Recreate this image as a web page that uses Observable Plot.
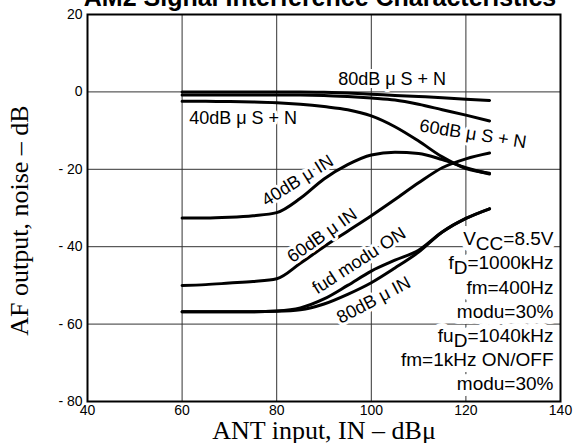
<!DOCTYPE html>
<html>
<head>
<meta charset="utf-8">
<script src="https://cdn.jsdelivr.net/npm/d3@7"></script>
<script src="https://cdn.jsdelivr.net/npm/@observablehq/plot@0.6"></script>
<style>
  html, body { margin: 0; padding: 0; background: white; overflow: hidden; }
</style>
</head>
<body>
<div id="chart"></div>
<script>
// ---- data ----
const title = "AM2 Signal Interference Characteristics";
const xLabel = "ANT input, IN – dBμ";
const yLabel = "AF output, noise – dB";
const xTicks = [40, 60, 80, 100, 120, 140];
const yTicks = [20, 0, -20, -40, -60, -80];
const xGrid = [60, 80, 100, 120];
const yGrid = [0, -20, -40, -60];

const inputLevels = [60, 65, 70, 75, 80, 85, 90, 95, 100, 105, 110, 115, 120, 125];
const s80 = [0, 0, 0, 0, 0, 0, -0.1, -0.3, -0.6, -0.9, -1.2, -1.5, -1.9, -2.2];
const s60 = [-0.8, -0.8, -0.8, -0.8, -0.8, -0.8, -0.9, -1.2, -1.6, -2.1, -3.2, -4.6, -6.0, -7.5];
const s40 = [-2.4, -2.4, -2.5, -2.6, -2.8, -3.2, -3.8, -4.6, -6.2, -9.0, -12.7, -16.8, -19.8, -21.0];
const in40 = [-32.6, -32.6, -32.4, -32.0, -31.2, -27.5, -22.5, -18.8, -16.3, -15.6, -15.9, -17.5, -19.6, -21.2];
const in60 = [-50.0, -49.8, -49.4, -49.0, -48.3, -44.3, -40.0, -36.0, -32.0, -27.8, -23.5, -19.6, -17.3, -15.8];
const fudOn = [-56.8, -56.8, -56.8, -56.8, -56.6, -55.8, -53.5, -50.0, -46.3, -43.5, -40.9, -36.2, -32.7, -30.2];
const in80 = [-56.8, -56.8, -56.8, -56.8, -56.7, -56.3, -54.8, -52.3, -49.3, -45.5, -41.4, -36.2, -32.7, -30.2];

const seriesNames = ["80dB μ S + N", "60dB μ S + N", "40dB μ S + N", "40dB μ IN", "60dB μ IN", "fud modu ON", "80dB μ IN"];
const seriesValues = [s80, s60, s40, in40, in60, fudOn, in80];

// curve labels: text, anchor (data coords), rotation
const labelTexts = ["80dB μ S + N", "40dB μ S + N", "60dB μ S + N", "40dB μ IN", "60dB μ IN", "fud modu ON", "80dB μ IN"];
const labelX = [104.4, 72.9, 121.5, 84.4, 89.6, 97.4, 100.5];
const labelY = [3.4, -6.9, -10.9, -22.9, -37.1, -43.6, -53.8];
const labelAngle = [0, 0, 9, -32, -35, -33, -28];

const conditions = ["V_{CC}=8.5V", "f_{D}=1000kHz", "fm=400Hz", "modu=30%", "fu_{D}=1040kHz", "fm=1kHz ON/OFF", "modu=30%"];

// ---- build tables ----
const curves = seriesNames.flatMap((name, k) =>
  inputLevels.map((x, i) => ({series: name, x, y: seriesValues[k][i]})));
const labels = labelTexts.map((t, i) => ({text: t, x: labelX[i], y: labelY[i], r: labelAngle[i]}));

const sans = "'Liberation Sans', Arial, Helvetica, sans-serif";
const serif = "'Liberation Serif', 'Times New Roman', serif";

const condOpts = {frameAnchor: "top-right", textAnchor: "end", lineAnchor: "top",
  lineHeight: 24.2 / 19, dx: -7, dy: 213.5, fontSize: 19, fontFamily: sans};

const plot = Plot.plot({
  width: 575,
  height: 443,
  marginLeft: 87,
  marginRight: 15,
  marginTop: 14,
  marginBottom: 42,
  style: {fontFamily: sans, fontSize: "14px", color: "black", background: "white"},
  x: {domain: [40, 140], ticks: xTicks, tickSize: 0, tickPadding: 4, label: null},
  y: {domain: [-80, 20], ticks: yTicks, tickSize: 0, tickPadding: 5, label: null,
      tickFormat: d => d < 0 ? "- " + (-d) : String(d)},
  marks: [
    Plot.gridX(xGrid, {stroke: "#333", strokeOpacity: 1, strokeWidth: 1}),
    Plot.gridY(yGrid, {stroke: "#333", strokeOpacity: 1, strokeWidth: 1}),
    Plot.line(curves, {x: "x", y: "y", z: "series", stroke: "black", strokeWidth: 3, curve: "monotone-x"}),
    Plot.text(labels, {x: "x", y: "y", text: "text", rotate: "r", fontSize: 18, fontFamily: sans,
      fill: "black", stroke: "white", strokeWidth: 6, strokeLinejoin: "round", lineAnchor: "middle", textAnchor: "middle"}),
    // halo layer, then ink layer for the conditions block
    Plot.text([conditions.join("\n")], {...condOpts, fill: "white", stroke: "white", strokeWidth: 12, strokeLinejoin: "round"}),
    Plot.text([conditions.join("\n")], {...condOpts, fill: "black"}),
    Plot.text([title], {frameAnchor: "top", lineAnchor: "middle", textAnchor: "middle", dx: -4, dy: -17, fontSize: 25, fontWeight: "bold", fontFamily: sans}),
    Plot.text([xLabel], {frameAnchor: "bottom", lineAnchor: "middle", textAnchor: "middle", dy: 29, fontSize: 26, fontFamily: serif}),
    Plot.text([yLabel], {frameAnchor: "left", lineAnchor: "middle", textAnchor: "middle", rotate: -90, dx: -68.3, dy: 12.5, fontSize: 26, fontFamily: serif}),
    Plot.frame({stroke: "black", strokeWidth: 2})
  ]
});

// turn "_{..}" markers into real subscripts
const NS = "http://www.w3.org/2000/svg";
for (const el of [...plot.querySelectorAll("text, tspan")]) {
  if (el.childNodes.length !== 1 || el.firstChild.nodeType !== 3) continue;
  const s = el.textContent;
  if (!s.includes("_{")) continue;
  el.textContent = "";
  const re = /_\{([^}]*)\}/g;
  let last = 0, m, shifted = false;
  const add = (txt, dy) => {
    const t = document.createElementNS(NS, "tspan");
    if (dy) t.setAttribute("dy", dy);
    t.textContent = txt;
    el.appendChild(t);
  };
  while ((m = re.exec(s))) {
    if (m.index > last) { add(s.slice(last, m.index), shifted ? "-5" : null); shifted = false; }
    add(m[1], "5"); shifted = true;
    last = re.lastIndex;
  }
  if (last < s.length) add(s.slice(last), shifted ? "-5" : null);
}

document.getElementById("chart").appendChild(plot);
</script>
</body>
</html>
